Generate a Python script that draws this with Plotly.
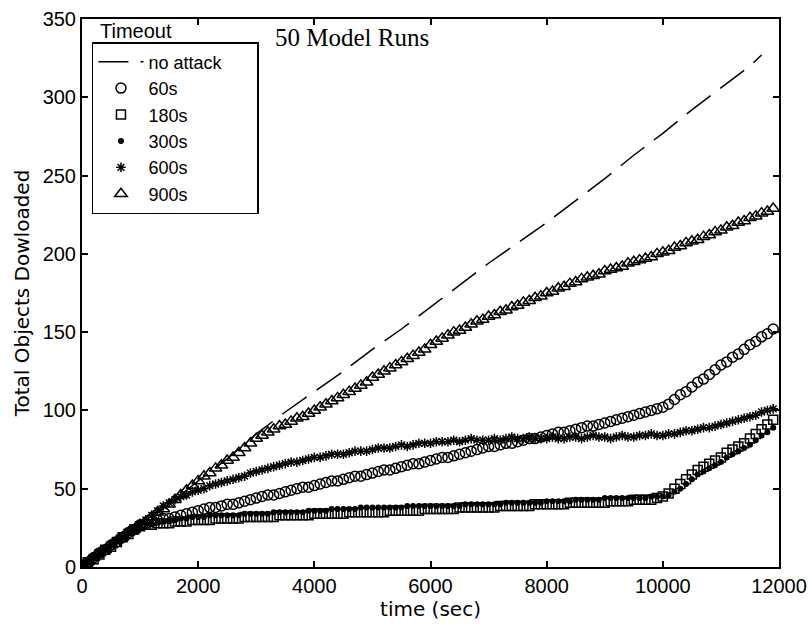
import plotly.graph_objects as go

# sample times (sec) for the marker series, one every 100 s
time_s = list(range(0, 12000, 100))

# "no attack" dashed line
noattack_t = [0, 500, 1000, 1500, 2000, 2500, 3000, 3500, 4000, 4500, 5000, 5500, 6000,
              6500, 7000, 7500, 8000, 8500, 9000, 9500, 10000, 10500, 11000, 11500, 11700]
noattack_v = [0, 14, 27, 40, 55, 69, 85, 99, 112, 125, 139, 152, 166,
              180, 194, 207, 220, 234, 248, 263, 277, 292, 306, 320, 327]

t60 = [1, 3, 6, 9, 11, 14, 16, 19, 22, 24,
       27, 28, 29, 30, 31, 31, 32, 33, 34, 35,
       36, 37, 38, 38, 39, 40, 40, 41, 42, 43,
       44, 45, 46, 46, 47, 48, 49, 50, 51, 51,
       52, 53, 54, 55, 55, 56, 57, 58, 58, 59,
       60, 61, 62, 62, 63, 64, 65, 66, 66, 67,
       68, 69, 70, 70, 71, 72, 73, 74, 75, 76,
       77, 77, 78, 79, 79, 80, 81, 82, 82, 83,
       84, 85, 86, 86, 87, 88, 89, 90, 90, 91,
       92, 93, 94, 95, 96, 97, 98, 99, 100, 101,
       102, 104, 107, 110, 112, 115, 118, 120, 123, 126,
       129, 131, 134, 136, 139, 142, 144, 147, 149, 152]

t180 = [1, 3, 5, 8, 11, 13, 16, 19, 21, 24,
        26, 27, 27, 28, 28, 28, 29, 29, 29, 30,
        30, 30, 30, 31, 31, 31, 31, 31, 32, 32,
        32, 32, 32, 32, 33, 33, 33, 33, 33, 33,
        34, 34, 34, 34, 34, 34, 35, 35, 35, 35,
        35, 35, 35, 36, 36, 36, 36, 36, 36, 37,
        37, 37, 37, 37, 37, 38, 38, 38, 38, 38,
        38, 38, 39, 39, 39, 39, 39, 39, 40, 40,
        40, 40, 40, 40, 41, 41, 41, 41, 41, 41,
        41, 42, 42, 42, 42, 43, 43, 43, 43, 44,
        45, 47, 50, 53, 56, 59, 62, 64, 66, 68,
        70, 73, 75, 77, 79, 82, 85, 88, 91, 94]

t300 = [1, 3, 6, 9, 11, 14, 17, 19, 22, 24,
        27, 28, 28, 29, 29, 30, 30, 31, 31, 32,
        32, 32, 33, 33, 33, 33, 33, 33, 34, 34,
        34, 34, 34, 35, 35, 35, 35, 35, 35, 36,
        36, 36, 36, 37, 37, 37, 37, 37, 38, 38,
        38, 38, 38, 38, 38, 38, 39, 39, 39, 39,
        39, 39, 39, 39, 39, 39, 40, 40, 40, 40,
        40, 40, 40, 41, 41, 41, 41, 41, 41, 41,
        42, 42, 42, 42, 42, 43, 43, 43, 43, 43,
        44, 44, 44, 44, 44, 44, 44, 44, 45, 45,
        45, 46, 48, 50, 53, 56, 59, 61, 63, 65,
        67, 70, 72, 74, 76, 78, 81, 84, 86, 89]

t600 = [1, 3, 6, 8, 11, 14, 16, 19, 22, 24,
        27, 30, 33, 36, 39, 41, 43, 45, 46, 48,
        49, 50, 52, 53, 54, 55, 56, 57, 58, 60,
        61, 62, 63, 64, 65, 66, 67, 67, 68, 69,
        70, 70, 71, 72, 72, 72, 73, 74, 74, 74,
        75, 76, 76, 76, 77, 78, 77, 78, 79, 79,
        79, 80, 80, 80, 81, 80, 81, 82, 81, 81,
        81, 82, 81, 82, 83, 82, 82, 83, 82, 82,
        82, 83, 82, 82, 83, 83, 82, 83, 84, 83,
        83, 82, 83, 84, 83, 83, 84, 84, 85, 84,
        84, 85, 85, 86, 87, 87, 88, 89, 89, 90,
        91, 92, 93, 94, 95, 96, 97, 99, 100, 101]

t900 = [1, 3, 6, 9, 11, 14, 17, 19, 22, 24,
        27, 29, 32, 35, 37, 40, 43, 46, 49, 52,
        55, 58, 60, 63, 65, 68, 70, 73, 76, 79,
        82, 84, 86, 88, 90, 91, 93, 95, 96, 98,
        100, 102, 104, 106, 108, 110, 112, 114, 116, 118,
        121, 123, 125, 127, 129, 131, 133, 135, 137, 139,
        142, 144, 146, 148, 150, 151, 153, 155, 157, 158,
        160, 161, 163, 164, 166, 167, 169, 170, 172, 173,
        175, 176, 178, 179, 181, 182, 184, 185, 186, 187,
        189, 190, 191, 192, 194, 195, 196, 197, 198, 200,
        201, 202, 204, 205, 207, 208, 209, 211, 212, 214,
        215, 217, 218, 220, 221, 223, 224, 226, 227, 229]

x_ticks = [0, 2000, 4000, 6000, 8000, 10000, 12000]
x_tick_text = ["0", "2000", "4000", "6000", "8000", "10000", "12000"]
y_ticks = [0, 50, 100, 150, 200, 250, 300, 350]
y_tick_text = ["0", "50", "100", "150", "200", "250", "300", "350"]

SANS = "Liberation Sans, Arial, sans-serif"
PAD = "\u00a0" * 6

fig = go.Figure()
fig.add_trace(go.Scatter(x=noattack_t, y=noattack_v, mode="lines", name="no attack" + PAD,
                         line=dict(color="black", width=1.5, dash="30px,12px")))
fig.add_trace(go.Scatter(x=time_s, y=t60, mode="markers", name="60s",
                         marker=dict(symbol="circle-open", size=10, color="black",
                                     line=dict(width=1.5, color="black"))))
fig.add_trace(go.Scatter(x=time_s, y=t180, mode="markers", name="180s",
                         marker=dict(symbol="square-open", size=9, color="black",
                                     line=dict(width=1.5, color="black"))))
fig.add_trace(go.Scatter(x=time_s, y=t300, mode="markers", name="300s",
                         marker=dict(symbol="circle", size=6, color="black")))
fig.add_trace(go.Scatter(x=time_s, y=t600, mode="markers", name="600s",
                         marker=dict(symbol="asterisk-open", size=8, color="black",
                                     line=dict(width=1.5, color="black"))))
fig.add_trace(go.Scatter(x=time_s, y=t900, mode="markers", name="900s",
                         marker=dict(symbol="triangle-up-open", size=11, color="black",
                                     line=dict(width=1.5, color="black"))))

axis_common = dict(showline=True, linecolor="black", linewidth=2, mirror="ticks",
                   ticks="inside", ticklen=6, tickwidth=1.5, tickcolor="black",
                   showgrid=False, zeroline=False, automargin=False,
                   tickfont=dict(family=SANS, size=20, color="black"))

fig.update_layout(
    width=808, height=629,
    margin=dict(l=82, r=29, t=19, b=62),
    paper_bgcolor="white", plot_bgcolor="white",
    xaxis=dict(range=[0, 12000], tickvals=x_ticks, ticktext=x_tick_text,
               title=dict(text="time (sec)", font=dict(family="DejaVu Sans", size=20, color="black"),
                          standoff=4),
               **axis_common),
    yaxis=dict(range=[0, 350], tickvals=y_ticks, ticktext=y_tick_text,
               title=dict(text="Total Objects Dowloaded",
                          font=dict(family="DejaVu Sans", size=20, color="black"), standoff=8),
               **axis_common),
    showlegend=True,
    legend=dict(x=0.0143, y=0.958, xanchor="left", yanchor="top",
                bgcolor="white", bordercolor="black", borderwidth=1.5,
                font=dict(family=SANS, size=18, color="black"),
                itemwidth=45, tracegroupgap=0),
    annotations=[
        dict(text="Timeout", xref="paper", yref="paper", x=0.023, y=0.978,
             xanchor="left", yanchor="middle", showarrow=False,
             font=dict(family=SANS, size=20, color="black")),
        dict(text="50 Model Runs", xref="paper", yref="paper", x=0.387, y=0.967,
             xanchor="center", yanchor="middle", showarrow=False,
             font=dict(family="Liberation Serif, Times New Roman, serif", size=25, color="black")),
    ],
)

fig.write_html("out.html", config={"displayModeBar": False},
               post_script="document.body.style.margin='0px';document.body.style.overflow='hidden';")
